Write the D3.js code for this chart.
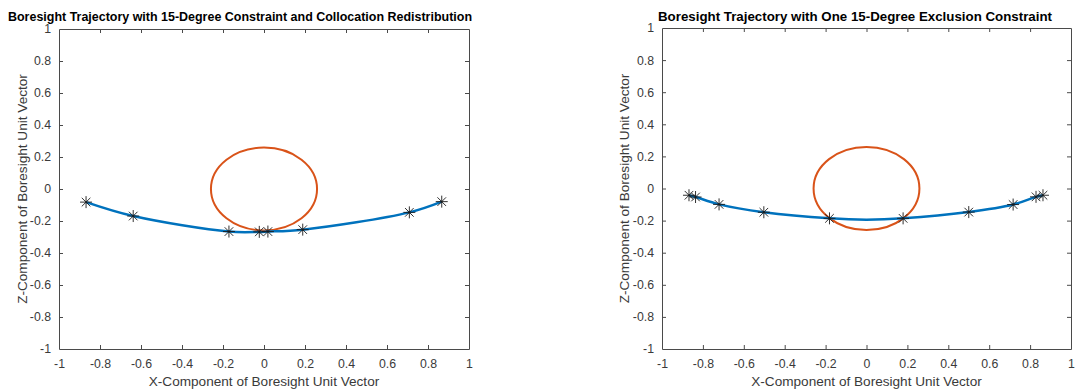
<!DOCTYPE html>
<html>
<head>
<meta charset="utf-8">
<script src="https://cdn.jsdelivr.net/npm/d3@7"></script>
<style>
  html, body { margin: 0; padding: 0; background: #fff; }
  svg { display: block; font-family: "Liberation Sans", Arial, sans-serif; }
</style>
</head>
<body>
<svg id="chart" width="1077" height="392"></svg>
<script>
// ---- data ----
const xTicks = [-1, -0.8, -0.6, -0.4, -0.2, 0, 0.2, 0.4, 0.6, 0.8, 1];
const yTicks = [-1, -0.8, -0.6, -0.4, -0.2, 0, 0.2, 0.4, 0.6, 0.8, 1];
const xLabel = "X-Component of Boresight Unit Vector";
const yLabel = "Z-Component of Boresight Unit Vector";

const leftTitle = "Boresight Trajectory with 15-Degree Constraint and Collocation Redistribution";
const leftStarX = [-0.868, -0.638, -0.171, -0.023, 0.019, 0.189, 0.709, 0.867];
const leftStarZ = [-0.082, -0.169, -0.266, -0.268, -0.266, -0.254, -0.146, -0.079];
const leftLineX = [-0.868, -0.638, -0.171, -0.023, 0.019, 0.189, 0.709, 0.867];
const leftLineZ = [-0.082, -0.169, -0.266, -0.268, -0.266, -0.254, -0.146, -0.079];

const rightTitle = "Boresight Trajectory with One 15-Degree Exclusion Constraint";
const rightStarX = [-0.868, -0.836, -0.721, -0.502, -0.181, 0.179, 0.500, 0.717, 0.829, 0.863];
const rightStarZ = [-0.042, -0.053, -0.099, -0.148, -0.186, -0.186, -0.147, -0.100, -0.052, -0.042];
const rightLineX = [-0.868, -0.836, -0.721, -0.502, -0.181, 0, 0.179, 0.500, 0.717, 0.829, 0.863];
const rightLineZ = [-0.042, -0.053, -0.099, -0.148, -0.186, -0.194, -0.186, -0.147, -0.100, -0.052, -0.042];

const constraintCenterX = [0, 0];
const constraintCenterZ = [0, 0];
const constraintRadius = [0.2588, 0.2588];

// ---- drawing ----
const svg = d3.select("#chart");
const axisColor = "#4a4a4a";
const textColor = "#3a3a3a";
const fmt = d => String(+d.toFixed(1));

function panel(opts) {
  const { x0, x1, y0, y1, title, titleX, titleLen, titleSize, starX, starZ, lineX, lineZ, cx, cz, r, ylabX } = opts;
  const xs = d3.scaleLinear().domain([-1, 1]).range([x0, x1]);
  const ys = d3.scaleLinear().domain([-1, 1]).range([y1, y0]);
  const g = svg.append("g");

  const tl = 4;
  const bottom = g.append("g").attr("transform", `translate(0,${y1})`)
    .call(d3.axisBottom(xs).tickValues(xTicks).tickSizeInner(-tl).tickSizeOuter(0).tickPadding(10).tickFormat(fmt));
  const top = g.append("g").attr("transform", `translate(0,${y0})`)
    .call(d3.axisTop(xs).tickValues(xTicks).tickSizeInner(-tl).tickSizeOuter(0).tickFormat(""));
  const left = g.append("g").attr("transform", `translate(${x0},0)`)
    .call(d3.axisLeft(ys).tickValues(yTicks).tickSizeInner(-tl).tickSizeOuter(0).tickPadding(8).tickFormat(fmt));
  const right = g.append("g").attr("transform", `translate(${x1},0)`)
    .call(d3.axisRight(ys).tickValues(yTicks).tickSizeInner(-tl).tickSizeOuter(0).tickFormat(""));

  [bottom, top, left, right].forEach(a => {
    a.select(".domain").attr("stroke", axisColor).attr("stroke-width", 1);
    a.selectAll(".tick line").attr("stroke", axisColor).attr("stroke-width", 1);
    a.selectAll(".tick text").attr("fill", textColor).style("font-size", "12.3px")
      .style("font-family", "'Liberation Sans', Arial, sans-serif");
    a.selectAll(".tick line").filter(d => d === -1 || d === 1).remove();
  });

  // constraint circle
  g.append("ellipse")
    .attr("cx", xs(cx)).attr("cy", ys(cz))
    .attr("rx", xs(cx + r) - xs(cx)).attr("ry", ys(cz) - ys(cz + r))
    .attr("fill", "none").attr("stroke", "#D95319").attr("stroke-width", 2);

  // trajectory line
  const pts = lineX.map((x, i) => [x, lineZ[i]]);
  g.append("path")
    .attr("d", d3.line().x(d => xs(d[0])).y(d => ys(d[1])).curve(d3.curveCatmullRom.alpha(0.5))(pts))
    .attr("fill", "none").attr("stroke", "#0072BD").attr("stroke-width", 2.5);

  // star markers
  const s = 6, dgn = 4.3;
  const stars = g.append("g");
  starX.forEach((x, i) => {
    const px = xs(x), py = ys(starZ[i]);
    const p = `M${px - s},${py}L${px + s},${py}M${px},${py - s}L${px},${py + s}` +
      `M${px - dgn},${py - dgn}L${px + dgn},${py + dgn}M${px - dgn},${py + dgn}L${px + dgn},${py - dgn}`;
    stars.append("path").attr("d", p).attr("stroke", "#1a1a1a").attr("stroke-width", 0.9).attr("fill", "none");
  });

  // title
  g.append("text").attr("x", titleX).attr("y", 21)
    .attr("font-weight", "bold").style("font-size", titleSize + "px").attr("fill", "#000")
    .attr("textLength", titleLen).attr("lengthAdjust", "spacingAndGlyphs")
    .text(title);

  // x label
  g.append("text").attr("x", (x0 + x1) / 2).attr("y", 386).attr("text-anchor", "middle")
    .style("font-size", "13.6px").attr("fill", textColor).text(xLabel);
  // y label
  g.append("text").attr("transform", `translate(${ylabX},${(y0 + y1) / 2}) rotate(-90)`)
    .attr("text-anchor", "middle").attr("dominant-baseline", "central")
    .style("font-size", "13.6px").attr("fill", textColor).text(yLabel);
}

panel({ x0: 59, x1: 469, y0: 29, y1: 349, title: leftTitle, titleX: 8, titleLen: 464, titleSize: 13,
  starX: leftStarX, starZ: leftStarZ, lineX: leftLineX, lineZ: leftLineZ,
  cx: constraintCenterX[0], cz: constraintCenterZ[0], r: constraintRadius[0], ylabX: 22 });
panel({ x0: 662, x1: 1071, y0: 28, y1: 349, title: rightTitle, titleX: 658, titleLen: 394, titleSize: 13.3,
  starX: rightStarX, starZ: rightStarZ, lineX: rightLineX, lineZ: rightLineZ,
  cx: constraintCenterX[1], cz: constraintCenterZ[1], r: constraintRadius[1], ylabX: 624 });
</script>
</body>
</html>
